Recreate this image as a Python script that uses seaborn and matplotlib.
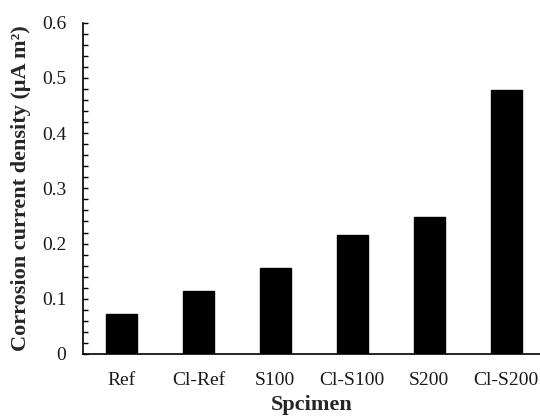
import matplotlib
matplotlib.use("Agg")
import matplotlib.pyplot as plt
from matplotlib.ticker import MultipleLocator
import seaborn as sns
import pandas as pd

specimens = ["Ref", "Cl-Ref", "S100", "Cl-S100", "S200", "Cl-S200"]
current_density = [0.072, 0.115, 0.156, 0.215, 0.248, 0.478]

sns.set_theme(style="white")
plt.rcParams["font.family"] = ["Liberation Serif", "DejaVu Serif"]

df = pd.DataFrame({"Specimen": specimens, "Density": current_density})

fig = plt.figure(figsize=(5.4, 4.16), dpi=100)
ax = fig.add_axes([83 / 540, 1 - 354 / 416, 1 - 83 / 540, (354 - 22.7) / 416])

sns.barplot(data=df, x="Specimen", y="Density", color="black",
            saturation=1, width=0.4, ax=ax, edgecolor="black")

ax.set_xlim(-0.5, 5.44)
ax.set_ylim(0, 0.6)
ax.yaxis.set_major_locator(MultipleLocator(0.1))
ax.yaxis.set_minor_locator(MultipleLocator(0.02))
ax.set_yticks([0, 0.1, 0.2, 0.3, 0.4, 0.5, 0.6])
ax.set_yticklabels(["0", "0.1", "0.2", "0.3", "0.4", "0.5", "0.6"])

ax.tick_params(axis="y", which="both", direction="in", length=3.5, width=1,
               color="black", left=True, labelsize=14, pad=12,
               labelcolor="#1a1a1a")
ax.tick_params(axis="x", bottom=False, labelsize=14, pad=7,
               labelcolor="#1a1a1a")

for side in ["top", "right"]:
    ax.spines[side].set_visible(False)
for side in ["left", "bottom"]:
    ax.spines[side].set_color("black")
    ax.spines[side].set_linewidth(1.2)

ax.set_xlabel("Spcimen", fontsize=16, fontweight="bold", labelpad=4)
ax.set_ylabel("Corrosion current density (μA m²)", fontsize=16,
              fontweight="bold", labelpad=8)

fig.savefig("out.png", dpi=100)
